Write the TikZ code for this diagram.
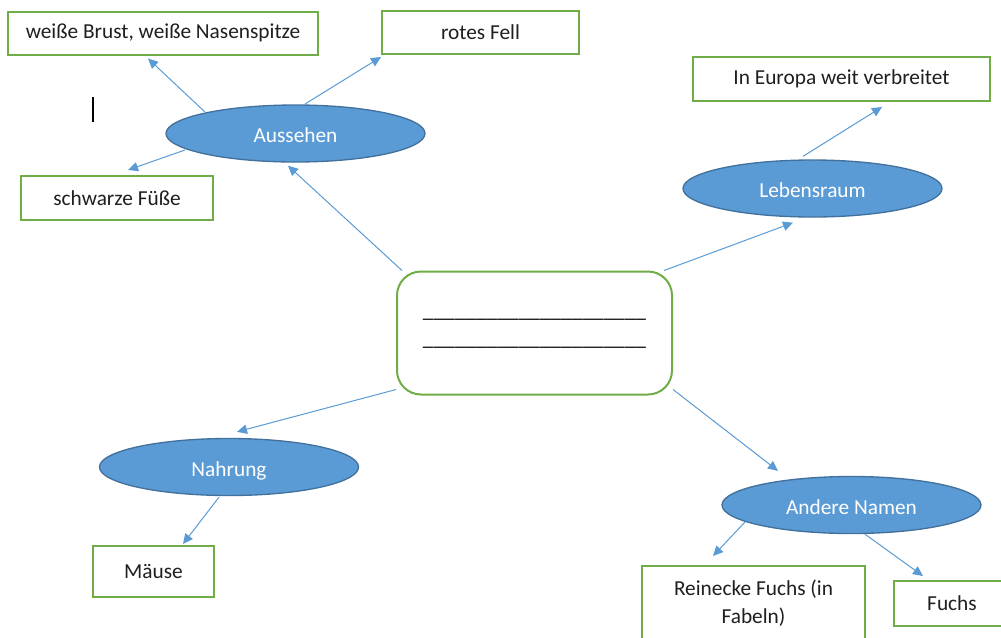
\documentclass[tikz,border=0pt]{standalone}
\usepackage{fontspec}
\setmainfont{Carlito}
\usetikzlibrary{arrows.meta,calc,shapes.geometric}
\definecolor{eblue}{HTML}{5B9BD5}
\definecolor{eborder}{HTML}{41719C}
\definecolor{bgreen}{HTML}{70AD47}
\definecolor{arrblue}{HTML}{5B9BD5}
\begin{document}
\begin{tikzpicture}[x=0.75pt,y=-0.75pt,
  font=\fontsize{16}{21}\selectfont,
  leaf/.style={draw=bgreen,line width=1.5pt,fill=white,inner sep=0,text=black!88,align=center},
  topic/.style={ellipse,draw=eborder,line width=1pt,fill=eblue,text=white,minimum width=194.25pt,minimum height=42.75pt,inner sep=0,text height=13.5pt,text depth=0pt},
  arr/.style={draw=arrblue,line width=0.75pt,-{Triangle[length=7.5pt,width=7pt]}}
]
\clip (0,0) rectangle (1001,637);
\fill[white] (0,0) rectangle (1001,637);

% central box
\node[draw=bgreen,line width=1.5pt,rounded corners=18pt,minimum width=206.25pt,minimum height=92.25pt,inner sep=0,align=center,text=black] (c) at (534.5,333)
  {\_\_\_\_\_\_\_\_\_\_\_\_\_\_\_\_\_\_\_\_\_\\\_\_\_\_\_\_\_\_\_\_\_\_\_\_\_\_\_\_\_\_\_};

% topics
\node[topic] (aus) at (295.5,133.5) {Aussehen};
\node[topic] (leb) at (812.5,188.5) {Lebensraum};
\node[topic] (nah) at (229,467) {Nahrung};
\node[topic] (and) at (851.5,505) {Andere Namen};

% leaves
\node[leaf,minimum width=232.5pt,minimum height=32.25pt] (b1) at (163,33) {weiße Brust, weiße Nasenspitze};
\node[leaf,minimum width=147.75pt,minimum height=32.25pt] (fell) at (480.5,32.5) {rotes Fell};
\node[leaf,minimum width=144pt,minimum height=33pt] (fu) at (117,198) {schwarze Füße};
\node[leaf,minimum width=222.75pt,minimum height=33pt] (eur) at (841.5,79) {In Europa weit verbreitet};
\node[leaf,minimum width=90.75pt,minimum height=38.25pt] (m) at (153.5,571.5) {Mäuse};
\node[leaf,minimum width=167.25pt,minimum height=55.5pt] (rein) at (753.5,603) {Reinecke Fuchs (in\\Fabeln)};
\node[leaf,minimum width=87pt,minimum height=33.75pt] (fuchs) at (952,603.5) {Fuchs};

% text cursor
\coordinate (cur1) at (93,97);
\coordinate (cur2) at (93,122);
\draw[black,line width=0.8pt] (cur1) -- (cur2);

% connectors
\draw[arr] ($(aus.center)+(-90.5,-21.5)$) -- ($(b1.south)+(-15,3)$);
\draw[arr] ($(aus.center)+(9.5,-29.5)$) -- ($(fell.south west)+(0,2)$);
\draw[arr] ($(aus.center)+(-110.5,16.5)$) -- ($(fu.north)+(11,-5)$);
\draw[arr] ($(c.north west)+(6,0)$) -- ($(aus.south)+(-7.5,3)$);
\draw[arr] ($(c.north east)+(-9,0)$) -- ($(leb.south)+(-19.5,5)$);
\draw[arr] ($(leb.north)+(-9.5,-3)$) -- ($(eur.south)+(40.5,5)$);
\draw[arr] ($(c.south west)+(0,-6)$) -- ($(nah.north)+(8,-6)$);
\draw[arr] ($(nah.south)+(-10,1)$) -- ($(m.north)+(29.5,-1)$);
\draw[arr] ($(c.south east)+(0,-6)$) -- ($(and.north)+(-73.5,-5)$);
\draw[arr] ($(and.center)+(-106.5,17)$) -- ($(rein.north)+(-40.5,-9)$);
\draw[arr] ($(and.south)+(13.5,0)$) -- ($(fuchs.north west)+(30,-4)$);
\end{tikzpicture}
\end{document}
